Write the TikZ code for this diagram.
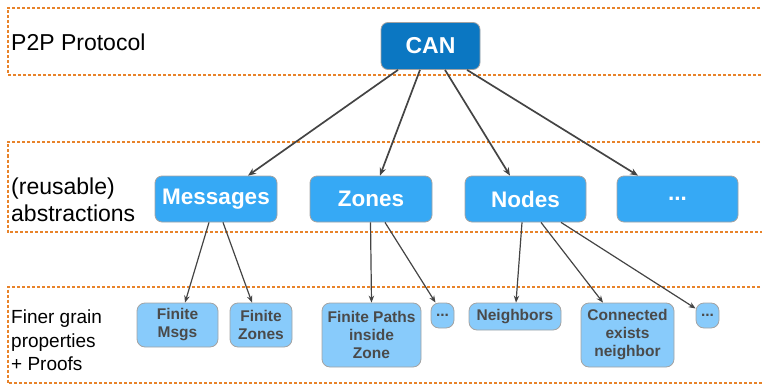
\documentclass[tikz,border=0pt]{standalone}
\usepackage{fontspec}
\setmainfont{Liberation Sans}
\usetikzlibrary{arrows.meta}

\definecolor{canblue}{HTML}{0B77C2}
\definecolor{midblue}{HTML}{36A9F5}
\definecolor{lowblue}{HTML}{88CBFB}
\definecolor{boxedge}{HTML}{A3A3A3}
\definecolor{lowtext}{HTML}{4A4A4A}
\definecolor{arrowgray}{HTML}{444444}
\definecolor{layerorange}{HTML}{E8832A}

\tikzset{
  layer/.style={draw=layerorange, line width=2pt, dash pattern=on 3pt off 2pt},
  toptitle/.style={anchor=west, align=left, inner sep=0pt, font=\fontsize{23}{27}\selectfont},
  lowtitle/.style={anchor=west, align=left, inner sep=0pt, font=\fontsize{19}{23.5}\selectfont},
  topbox/.style={draw=boxedge, line width=0.8pt, fill=canblue, rounded corners=7pt, inner sep=0pt,
    text=white, font=\bfseries\fontsize{23}{27}\selectfont},
  midbox/.style={draw=boxedge, line width=0.8pt, fill=midblue, rounded corners=7pt, inner sep=0pt,
    minimum height=46pt, text=white, font=\bfseries\fontsize{22.5}{27}\selectfont},
  lowbox/.style={draw=boxedge, line width=0.8pt, fill=lowblue, rounded corners=8pt, inner sep=0pt,
    align=center, text=lowtext, font=\bfseries\fontsize{15.5}{18}\selectfont},
  arrtop/.style={draw=arrowgray, line width=1.7pt, -{Stealth[length=8pt,width=6.5pt]}},
  arrlow/.style={draw=arrowgray, line width=1.2pt, -{Stealth[length=7pt,width=5.5pt]}},
}

\begin{document}
\begin{tikzpicture}[x=1pt, y=-1pt]
\useasboundingbox (0,0) rectangle (762,385);

% layer bands (open on the right)
\draw[layer] (775,8) -- (7.5,8) -- (7.5,75) -- (775,75);
\draw[layer] (775,142) -- (7.5,142) -- (7.5,232) -- (775,232);
\draw[layer] (775,287) -- (7.5,287) -- (7.5,383) -- (775,383);

% layer titles
\node[toptitle] (t1) at (11,42) {P2P Protocol};
\node[toptitle] (t2) at (11,199.5) {(reusable)\\abstractions};
\node[lowtitle] (t3) at (11,340.5) {Finer grain\\properties\\+ Proofs};

% protocol
\node[topbox, minimum width=99pt, minimum height=47pt] (can) at (430.5,46) {CAN};

% abstractions
\node[midbox, minimum width=122pt] (msg) at (216,199) {Messages};
\node[midbox, minimum width=122pt] (zones) at (371,199) {Zones};
\node[midbox, minimum width=121pt] (nodes) at (525.5,199) {Nodes};
\node[midbox, minimum width=121pt] (more) at (677.5,199) {...};

% properties
\node[lowbox, minimum width=81pt, minimum height=44pt] (fmsgs) at (177.5,325) {Finite\\Msgs};
\node[lowbox, minimum width=62pt, minimum height=44pt] (fzones) at (261,325) {Finite\\Zones};
\node[lowbox, minimum width=99pt, minimum height=64pt] (fpaths) at (371.5,335) {Finite Paths\\inside\\Zone};
\node[lowbox, minimum width=23pt, minimum height=25pt] (zmore) at (442.5,315.5) {...};
\node[lowbox, minimum width=92pt, minimum height=27pt] (neigh) at (515,316.5) {Neighbors};
\node[lowbox, minimum width=93pt, minimum height=64pt] (conn) at (627.5,335) {Connected\\exists\\neighbor};
\node[lowbox, minimum width=23pt, minimum height=25pt] (nmore) at (707.5,315.5) {...};

% protocol -> abstractions
\draw[arrtop] ([xshift=-32.5pt]can.south) -- ([xshift=32pt]msg.north);
\draw[arrtop] ([xshift=-10.5pt]can.south) -- ([xshift=9pt]zones.north);
\draw[arrtop] ([xshift=14.5pt]can.south) -- ([xshift=-15.5pt]nodes.north);
\draw[arrtop] ([xshift=36.5pt]can.south) -- ([xshift=-39.5pt]more.north);

% abstractions -> properties
\draw[arrlow] ([xshift=-7pt]msg.south) -- ([xshift=7.5pt]fmsgs.north);
\draw[arrlow] ([xshift=7pt]msg.south) -- ([xshift=-9pt]fzones.north);
\draw[arrlow] ([xshift=-0.5pt]zones.south) -- (fpaths.north);
\draw[arrlow] ([xshift=14pt]zones.south) -- ([xshift=-7pt]zmore.north);
\draw[arrlow] ([xshift=-3.5pt]nodes.south) -- ([xshift=1pt]neigh.north);
\draw[arrlow] ([xshift=15.5pt]nodes.south) -- ([xshift=-24.5pt]conn.north);
\draw[arrlow] ([xshift=35.5pt]nodes.south) -- ([yshift=7pt]nmore.west);
\end{tikzpicture}
\end{document}
